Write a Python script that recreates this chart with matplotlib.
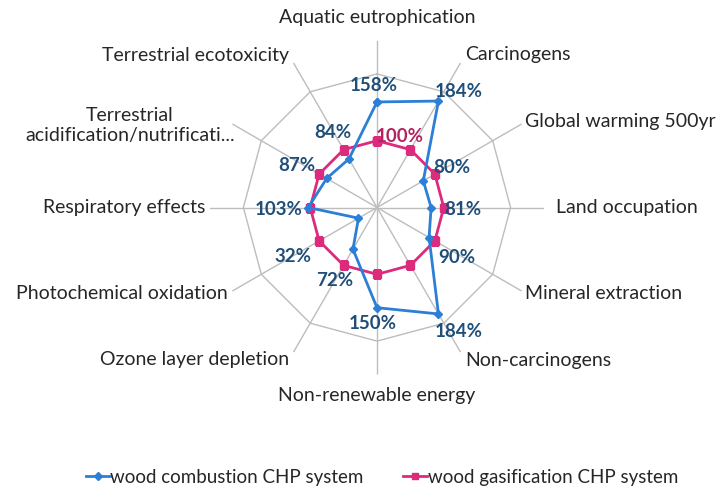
import numpy as np
import matplotlib.pyplot as plt

plt.rcParams['font.family'] = ['Lato', 'DejaVu Sans']

categories = ["Aquatic eutrophication", "Carcinogens", "Global warming 500yr",
              "Land occupation", "Mineral extraction", "Non-carcinogens",
              "Non-renewable energy", "Ozone layer depletion", "Photochemical oxidation",
              "Respiratory effects", "Terrestrial\nacidification/nutrificati...",
              "Terrestrial ecotoxicity"]
combustion = [158, 184, 80, 81, 90, 184, 150, 72, 32, 103, 87, 84]
gasification = [100, 100, 100, 100, 100, 100, 100, 100, 100, 100, 100, 100]

blue = "#2b7fd6"
pink = "#dc2a7c"
label_blue = "#1f4e79"
label_pink = "#b5235f"
grid_col = "#bdbdbd"
txt_col = "#262626"

n = len(categories)
theta = np.arange(n) * 2 * np.pi / n
theta_c = np.append(theta, theta[0])

fig = plt.figure(figsize=(7.16, 4.93), dpi=100)
ax = fig.add_axes([210 / 716, 118.5 / 493, 334 / 716, 334 / 493], projection="polar")
ax.set_theta_zero_location("N")
ax.set_theta_direction(-1)
ax.set_ylim(0, 250)
ax.grid(False)
ax.spines["polar"].set_visible(False)
ax.set_xticks([])
ax.set_yticks([])
ax.patch.set_alpha(0)

# polygonal gridline and spokes
ax.plot(theta_c, [200] * (n + 1), color=grid_col, lw=1, zorder=1)
for t in theta:
    ax.plot([t, t], [0, 250], color=grid_col, lw=1, zorder=1)

ax.plot(theta_c, gasification + gasification[:1], color=pink, lw=2,
        marker="s", ms=6, label="wood gasification CHP system", zorder=3)
ax.plot(theta_c, combustion + combustion[:1], color=blue, lw=2,
        marker="D", ms=4.5, label="wood combustion CHP system", zorder=4)

# category labels
radii = [284, 265, 256, 268, 256, 265, 282, 262, 258, 257, 246, 262]
for t, name, r in zip(theta, categories, radii):
    deg = np.degrees(t)
    if deg in (0, 180):
        ha = "center"
    else:
        ha = "left" if deg < 180 else "right"
    ax.text(t, r, name, ha=ha, va="center", fontsize=14, color=txt_col,
            multialignment="center", linespacing=1.25)

# data labels (pixel offsets from the outer point)
offsets = [(-3, 16), (20, 10), (17, 7), (19, -2), (22, -17), (20, -18),
           (-4, -16), (-9, -15), (-26, -16), (-30, -2), (-22, 9), (-11, 17)]
for t, c, g, (dx, dy) in zip(theta, combustion, gasification, offsets):
    ax.annotate(f"{c}%", xy=(t, max(c, g)), xytext=(dx * 0.72, dy * 0.72),
                textcoords="offset points", ha="center", va="center",
                fontsize=13.5, fontweight="bold", color=label_blue, zorder=5)
ax.annotate(f"{gasification[0]}%", xy=(theta[0], gasification[0]), xytext=(23 * 0.72, 4 * 0.72),
            textcoords="offset points", ha="center", va="center",
            fontsize=13.5, fontweight="bold", color=label_pink, zorder=5)

handles, labels = ax.get_legend_handles_labels()
fig.legend(handles[::-1], labels[::-1], loc="center", bbox_to_anchor=(382 / 716, 1 - 477 / 493),
           ncol=2, frameon=False, fontsize=13.5, handlelength=1.25, handletextpad=0.05,
           columnspacing=2.1, markerscale=0.8, labelcolor=txt_col)

fig.savefig("out.png", dpi=100)
